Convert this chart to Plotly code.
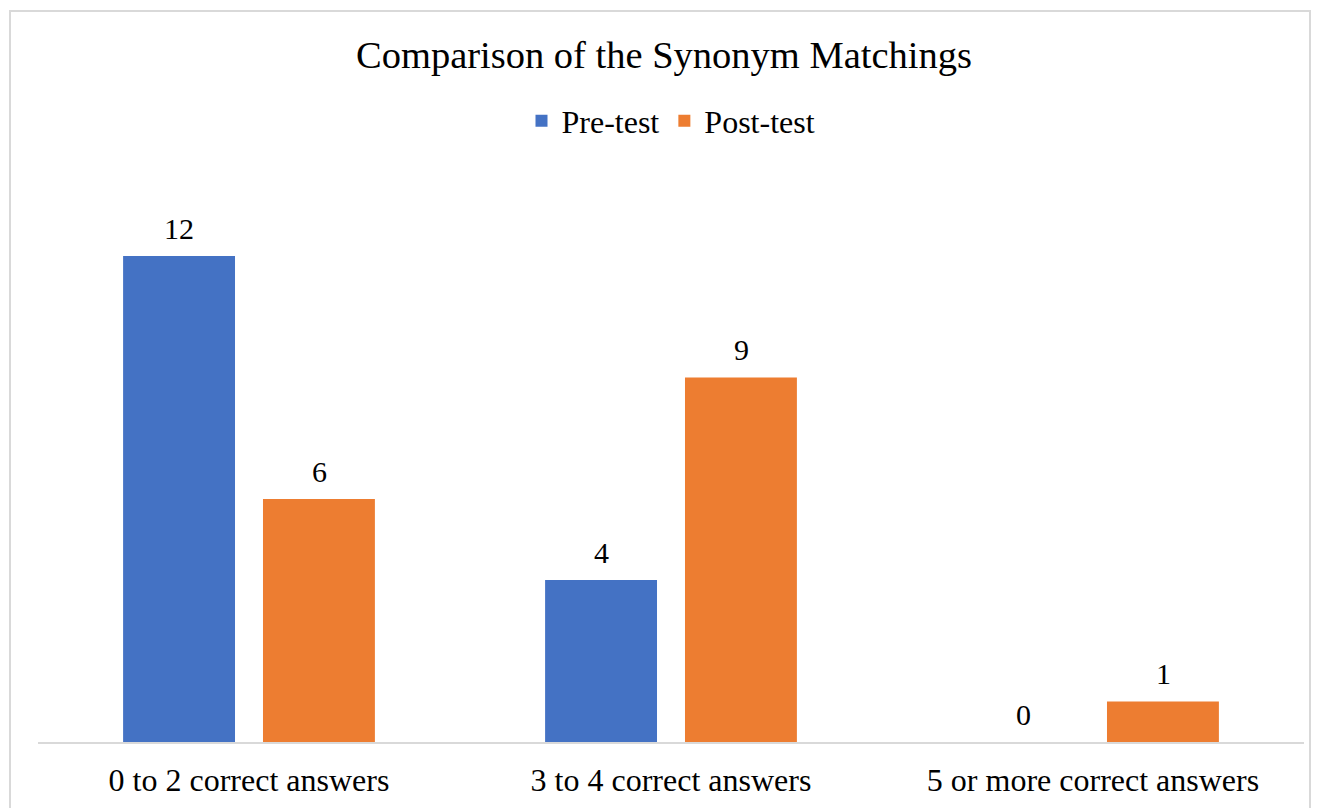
import plotly.graph_objects as go

categories = ["0 to 2 correct answers", "3 to 4 correct answers", "5 or more correct answers"]
pre_test = [12, 4, 0]
post_test = [6, 9, 1]
series_names = ["Pre-test", "Post-test"]
colors = ["#4472C4", "#ED7D31"]

FONT = "'Times New Roman', 'Liberation Serif', Times, serif"

# page has an 8px body margin; work in figure-internal pixel coords
W, H = 1312, 800
ml, mr, mt, mb = 30, 16, 167, 66
pw = W - ml - mr
ph = H - mt - mb

fig = go.Figure()
for name, vals, col in zip(series_names, [pre_test, post_test], colors):
    fig.add_trace(go.Bar(
        x=categories, y=vals, name=name,
        marker=dict(color=col, line=dict(width=0)),
        cliponaxis=False,
    ))

def px_x(x):
    return (x - ml) / pw

def px_y(y):
    return (H - mb - y) / ph

annotations = []
for vals, xs in [(pre_test, -70), (post_test, 70)]:
    for c, v in zip(categories, vals):
        annotations.append(dict(x=c, y=v, xref="x", yref="y", text=str(v), showarrow=False,
                                xshift=xs, yshift=28, yanchor="middle", xanchor="center",
                                font=dict(family=FONT, size=30, color="#000000")))

fig.update_layout(
    width=W, height=H,
    margin=dict(l=ml, r=mr, t=mt, b=mb, autoexpand=False),
    paper_bgcolor="white", plot_bgcolor="white",
    barmode="group", bargap=0.337, bargroupgap=0.2,
    font=dict(family=FONT, size=32, color="#000000"),
    title=dict(text="Comparison of the Synonym Matchings", x=0.5, xanchor="center",
               y=1 - 47 / H, yanchor="middle", font=dict(family=FONT, size=38.5, color="#000000")),
    legend=dict(orientation="h", x=0.5, xanchor="center", y=px_y(113), yanchor="middle",
                font=dict(family=FONT, size=32, color="#000000"), itemwidth=30,
                bgcolor="rgba(0,0,0,0)"),
    xaxis=dict(showline=True, linecolor="#D9D9D9", linewidth=2, ticks="", showgrid=False,
               ticklabelstandoff=9, automargin=False,
               tickfont=dict(family=FONT, size=32, color="#000000")),
    yaxis=dict(range=[0, 14], visible=False, showgrid=False, zeroline=False, automargin=False),
    annotations=annotations,
    shapes=[dict(type="rect", xref="paper", yref="paper",
                 x0=px_x(2), x1=px_x(1302), y0=px_y(3), y1=px_y(812),
                 line=dict(color="#D9D9D9", width=2), fillcolor="rgba(0,0,0,0)", layer="below")],
    showlegend=True,
)

fig.write_html("out.html")
